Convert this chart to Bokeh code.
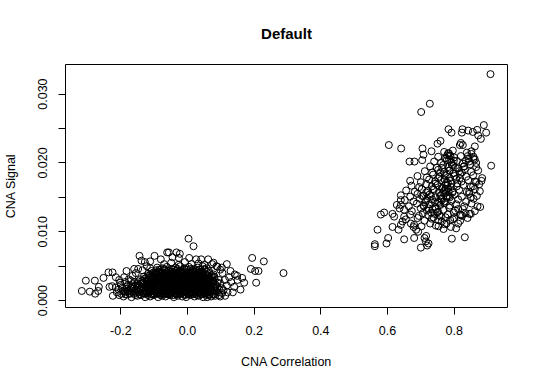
from bokeh.plotting import figure
from bokeh.models import Range1d, FixedTicker, PrintfTickFormatter
from bokeh.embed import file_html
from bokeh.resources import INLINE

FONT = "Liberation Sans"

# ---------------- data ----------------
# left cluster: dense core (rows) + outliers
blob_x = [
    -0.205, -0.192, -0.181, -0.168, -0.150, -0.139, -0.127, -0.112, -0.101, -0.088, -0.077, -0.066,
    -0.052, -0.041, -0.029, -0.016, -0.004, 0.008, 0.021, 0.034, 0.047, 0.058, 0.071, 0.083,
    -0.212, -0.199, -0.186, -0.174, -0.160, -0.146, -0.133, -0.121, -0.108, -0.095, -0.083, -0.070,
    -0.058, -0.046, -0.034, -0.022, -0.010, 0.002, 0.014, 0.027, 0.039, 0.051, 0.064, 0.077, 0.092, 0.104,
    -0.207, -0.193, -0.179, -0.165, -0.152, -0.140, -0.127, -0.115, -0.102, -0.090, -0.077, -0.064,
    -0.052, -0.040, -0.027, -0.015, -0.003, 0.009, 0.021, 0.033, 0.045, 0.057, 0.070, 0.082, 0.096,
    -0.196, -0.183, -0.170, -0.157, -0.144, -0.131, -0.119, -0.106, -0.094, -0.081, -0.069, -0.057,
    -0.044, -0.032, -0.020, -0.008, 0.004, 0.016, 0.028, 0.040, 0.052, 0.065, 0.077, 0.090, 0.103,
    -0.178, -0.164, -0.150, -0.137, -0.124, -0.112, -0.099, -0.087, -0.074, -0.062, -0.050, -0.037,
    -0.025, -0.013, -0.001, 0.011, 0.023, 0.035, 0.047, 0.060, 0.072, 0.085, 0.098,
    -0.160, -0.147, -0.133, -0.120, -0.108, -0.095, -0.083, -0.070, -0.058, -0.046, -0.034, -0.021,
    -0.009, 0.003, 0.015, 0.027, 0.039, 0.052, 0.064, 0.077, 0.090,
    -0.142, -0.128, -0.115, -0.103, -0.090, -0.078, -0.066, -0.053, -0.041, -0.029, -0.017, -0.005,
    0.007, 0.019, 0.031, 0.043, 0.056, 0.068, 0.081, 0.094,
    -0.131, -0.117, -0.104, -0.092, -0.079, -0.067, -0.055, -0.042, -0.030, -0.018, -0.006, 0.006,
    0.018, 0.030, 0.042, 0.055, 0.067, 0.080,
    -0.118, -0.105, -0.092, -0.080, -0.068, -0.056, -0.043, -0.031, -0.019, -0.007, 0.005, 0.017,
    0.029, 0.041, 0.053, 0.066, 0.078,
    -0.108, -0.094, -0.081, -0.069, -0.057, -0.045, -0.033, -0.021, -0.009, 0.003, 0.015, 0.027,
    0.039, 0.051, 0.064,
    -0.091, -0.076, -0.062, -0.049, -0.036, -0.022, -0.009, 0.004, 0.018, 0.031, 0.045, 0.058,
    -0.070, -0.049, -0.027, -0.008, 0.012, 0.033, 0.051,
    -0.190, -0.176, -0.165, -0.155, -0.170, -0.187, -0.200, -0.215, -0.205, -0.148, -0.135, -0.122, -0.112,
    0.105, 0.112, 0.118, 0.125, 0.098, 0.108, 0.120, 0.131, 0.140, 0.150, 0.087, 0.074, 0.095, 0.113,
]
blob_y = [
    0.0008, 0.0006, 0.0009, 0.0005, 0.0007, 0.0008, 0.0005, 0.0006, 0.0008, 0.0005, 0.0007, 0.0006,
    0.0008, 0.0005, 0.0007, 0.0006, 0.0005, 0.0008, 0.0006, 0.0007, 0.0005, 0.0008, 0.0006, 0.0007,
    0.0012, 0.0010, 0.0013, 0.0011, 0.0010, 0.0012, 0.0011, 0.0013, 0.0010, 0.0012, 0.0011, 0.0013,
    0.0010, 0.0012, 0.0011, 0.0010, 0.0013, 0.0011, 0.0012, 0.0010, 0.0013, 0.0011, 0.0012, 0.0010, 0.0012, 0.0011,
    0.0016, 0.0014, 0.0015, 0.0017, 0.0014, 0.0016, 0.0015, 0.0014, 0.0017, 0.0015, 0.0016, 0.0014,
    0.0015, 0.0017, 0.0014, 0.0016, 0.0015, 0.0017, 0.0014, 0.0016, 0.0015, 0.0014, 0.0017, 0.0015, 0.0016,
    0.0019, 0.0020, 0.0018, 0.0021, 0.0019, 0.0018, 0.0020, 0.0021, 0.0019, 0.0018, 0.0020, 0.0019,
    0.0021, 0.0018, 0.0020, 0.0019, 0.0021, 0.0018, 0.0020, 0.0019, 0.0021, 0.0018, 0.0020, 0.0019, 0.0018,
    0.0023, 0.0024, 0.0022, 0.0025, 0.0023, 0.0022, 0.0024, 0.0023, 0.0025, 0.0022, 0.0024, 0.0023,
    0.0022, 0.0025, 0.0023, 0.0024, 0.0022, 0.0025, 0.0023, 0.0024, 0.0022, 0.0023, 0.0025,
    0.0027, 0.0028, 0.0026, 0.0029, 0.0027, 0.0026, 0.0028, 0.0027, 0.0029, 0.0026, 0.0028, 0.0027,
    0.0029, 0.0026, 0.0028, 0.0027, 0.0026, 0.0029, 0.0027, 0.0028, 0.0026,
    0.0031, 0.0032, 0.0030, 0.0033, 0.0031, 0.0030, 0.0032, 0.0031, 0.0033, 0.0030, 0.0032, 0.0031,
    0.0030, 0.0033, 0.0031, 0.0032, 0.0030, 0.0031, 0.0033, 0.0030,
    0.0035, 0.0036, 0.0034, 0.0037, 0.0035, 0.0034, 0.0036, 0.0035, 0.0037, 0.0034, 0.0036, 0.0035,
    0.0034, 0.0037, 0.0035, 0.0036, 0.0034, 0.0035,
    0.0039, 0.0040, 0.0038, 0.0041, 0.0039, 0.0038, 0.0040, 0.0039, 0.0041, 0.0038, 0.0040, 0.0039,
    0.0038, 0.0041, 0.0039, 0.0040, 0.0038,
    0.0043, 0.0044, 0.0042, 0.0045, 0.0043, 0.0042, 0.0044, 0.0043, 0.0045, 0.0042, 0.0044, 0.0043,
    0.0042, 0.0045, 0.0043,
    0.0048, 0.0047, 0.0049, 0.0046, 0.0048, 0.0050, 0.0047, 0.0049, 0.0046, 0.0048, 0.0050, 0.0047,
    0.0053, 0.0055, 0.0052, 0.0056, 0.0053, 0.0054, 0.0052,
    0.0034, 0.0031, 0.0036, 0.0040, 0.0029, 0.0027, 0.0023, 0.0019, 0.0030, 0.0046, 0.0044, 0.0050, 0.0047,
    0.0040, 0.0030, 0.0022, 0.0034, 0.0045, 0.0015, 0.0012, 0.0027, 0.0020, 0.0030, 0.0050, 0.0053, 0.0008, 0.0007,
]

# second, interleaved layer of the dense left core
core2_x = [
    -0.186, -0.172, -0.156, -0.143, -0.130, -0.118, -0.104, -0.092, -0.080, -0.068, -0.055, -0.043,
    -0.031, -0.019, -0.007, 0.005, 0.017, 0.030, 0.042, 0.054, 0.066, 0.080,
    -0.190, -0.176, -0.161, -0.148, -0.136, -0.123, -0.110, -0.098, -0.086, -0.073, -0.061, -0.049,
    -0.037, -0.025, -0.013, -0.001, 0.011, 0.023, 0.036, 0.048, 0.060, 0.073, 0.086,
    -0.182, -0.168, -0.154, -0.141, -0.129, -0.117, -0.104, -0.092, -0.079, -0.067, -0.055, -0.043,
    -0.031, -0.019, -0.007, 0.006, 0.018, 0.031, 0.043, 0.056, 0.068, 0.081,
    -0.165, -0.151, -0.138, -0.125, -0.113, -0.100, -0.088, -0.076, -0.063, -0.051, -0.039, -0.027,
    -0.015, -0.003, 0.009, 0.022, 0.034, 0.046, 0.059, 0.071, 0.084,
    -0.150, -0.136, -0.123, -0.111, -0.098, -0.086, -0.074, -0.061, -0.049, -0.037, -0.025, -0.012,
    0.000, 0.012, 0.025, 0.037, 0.050, 0.062, 0.075,
    -0.136, -0.122, -0.110, -0.097, -0.085, -0.072, -0.060, -0.048, -0.036, -0.024, -0.011, 0.001,
    0.013, 0.025, 0.038, 0.050, 0.063, 0.076,
    -0.124, -0.111, -0.098, -0.086, -0.073, -0.061, -0.049, -0.036, -0.024, -0.012, 0.000, 0.012,
    0.024, 0.037, 0.049, 0.062, 0.074,
    -0.112, -0.099, -0.086, -0.074, -0.062, -0.049, -0.037, -0.025, -0.013, -0.001, 0.011, 0.023,
    0.035, 0.048, 0.060, 0.072,
    -0.101, -0.088, -0.075, -0.063, -0.051, -0.039, -0.027, -0.015, -0.003, 0.009, 0.021, 0.033,
    0.045, 0.058,
    -0.085, -0.070, -0.056, -0.043, -0.030, -0.016, -0.003, 0.010, 0.024, 0.037, 0.051,
]
core2_y = [
    0.0009, 0.0010, 0.0008, 0.0009, 0.0010, 0.0008, 0.0009, 0.0010, 0.0008, 0.0009, 0.0010, 0.0008,
    0.0009, 0.0010, 0.0008, 0.0009, 0.0010, 0.0008, 0.0009, 0.0010, 0.0008, 0.0009,
    0.0013, 0.0014, 0.0012, 0.0013, 0.0014, 0.0012, 0.0013, 0.0014, 0.0012, 0.0013, 0.0014, 0.0012,
    0.0013, 0.0014, 0.0012, 0.0013, 0.0014, 0.0012, 0.0013, 0.0014, 0.0012, 0.0013, 0.0014,
    0.0017, 0.0018, 0.0016, 0.0017, 0.0018, 0.0016, 0.0017, 0.0018, 0.0016, 0.0017, 0.0018, 0.0016,
    0.0017, 0.0018, 0.0016, 0.0017, 0.0018, 0.0016, 0.0017, 0.0018, 0.0016, 0.0017,
    0.0021, 0.0022, 0.0020, 0.0021, 0.0022, 0.0020, 0.0021, 0.0022, 0.0020, 0.0021, 0.0022, 0.0020,
    0.0021, 0.0022, 0.0020, 0.0021, 0.0022, 0.0020, 0.0021, 0.0022, 0.0020,
    0.0025, 0.0026, 0.0024, 0.0025, 0.0026, 0.0024, 0.0025, 0.0026, 0.0024, 0.0025, 0.0026, 0.0024,
    0.0025, 0.0026, 0.0024, 0.0025, 0.0026, 0.0024, 0.0025,
    0.0029, 0.0030, 0.0028, 0.0029, 0.0030, 0.0028, 0.0029, 0.0030, 0.0028, 0.0029, 0.0030, 0.0028,
    0.0029, 0.0030, 0.0028, 0.0029, 0.0030, 0.0028,
    0.0033, 0.0034, 0.0032, 0.0033, 0.0034, 0.0032, 0.0033, 0.0034, 0.0032, 0.0033, 0.0034, 0.0032,
    0.0033, 0.0034, 0.0032, 0.0033, 0.0034,
    0.0037, 0.0038, 0.0036, 0.0037, 0.0038, 0.0036, 0.0037, 0.0038, 0.0036, 0.0037, 0.0038, 0.0036,
    0.0037, 0.0038, 0.0036, 0.0037,
    0.0041, 0.0042, 0.0040, 0.0041, 0.0042, 0.0040, 0.0041, 0.0042, 0.0040, 0.0041, 0.0042, 0.0040,
    0.0041, 0.0042,
    0.0045, 0.0046, 0.0044, 0.0045, 0.0046, 0.0044, 0.0045, 0.0046, 0.0044, 0.0045, 0.0046,
]

# third layer: the solid black centre of the left cluster
core3_x = [
    -0.124, -0.116, -0.107, -0.099, -0.091, -0.083, -0.074, -0.066, -0.058, -0.050, -0.041, -0.033,
    -0.025, -0.017, -0.008, 0.000, 0.008, 0.016, 0.025, 0.033, 0.041, 0.049, 0.058, 0.066,
    -0.120, -0.112, -0.103, -0.095, -0.087, -0.079, -0.070, -0.062, -0.054, -0.046, -0.037, -0.029,
    -0.021, -0.013, -0.004, 0.004, 0.012, 0.020, 0.029, 0.037, 0.045, 0.053, 0.062, 0.070,
    -0.124, -0.116, -0.107, -0.099, -0.091, -0.083, -0.074, -0.066, -0.058, -0.050, -0.041, -0.033,
    -0.025, -0.017, -0.008, 0.000, 0.008, 0.016, 0.025, 0.033, 0.041, 0.049, 0.058, 0.066,
    -0.120, -0.112, -0.103, -0.095, -0.087, -0.079, -0.070, -0.062, -0.054, -0.046, -0.037, -0.029,
    -0.021, -0.013, -0.004, 0.004, 0.012, 0.020, 0.029, 0.037, 0.045, 0.053, 0.062, 0.070,
    -0.107, -0.099, -0.091, -0.083, -0.074, -0.066, -0.058, -0.050, -0.041, -0.033, -0.025, -0.017,
    -0.008, 0.000, 0.008, 0.016, 0.025, 0.033, 0.041, 0.049, 0.058,
    -0.095, -0.087, -0.079, -0.070, -0.062, -0.054, -0.046, -0.037, -0.029, -0.021, -0.013, -0.004,
    0.004, 0.012, 0.020, 0.029, 0.037, 0.045,
]
core3_y = [
    0.0010, 0.0011, 0.0009, 0.0010, 0.0011, 0.0009, 0.0010, 0.0011, 0.0009, 0.0010, 0.0011, 0.0009,
    0.0010, 0.0011, 0.0009, 0.0010, 0.0011, 0.0009, 0.0010, 0.0011, 0.0009, 0.0010, 0.0011, 0.0009,
    0.0016, 0.0017, 0.0015, 0.0016, 0.0017, 0.0015, 0.0016, 0.0017, 0.0015, 0.0016, 0.0017, 0.0015,
    0.0016, 0.0017, 0.0015, 0.0016, 0.0017, 0.0015, 0.0016, 0.0017, 0.0015, 0.0016, 0.0017, 0.0015,
    0.0022, 0.0023, 0.0021, 0.0022, 0.0023, 0.0021, 0.0022, 0.0023, 0.0021, 0.0022, 0.0023, 0.0021,
    0.0022, 0.0023, 0.0021, 0.0022, 0.0023, 0.0021, 0.0022, 0.0023, 0.0021, 0.0022, 0.0023, 0.0021,
    0.0028, 0.0029, 0.0027, 0.0028, 0.0029, 0.0027, 0.0028, 0.0029, 0.0027, 0.0028, 0.0029, 0.0027,
    0.0028, 0.0029, 0.0027, 0.0028, 0.0029, 0.0027, 0.0028, 0.0029, 0.0027, 0.0028, 0.0029, 0.0027,
    0.0034, 0.0035, 0.0033, 0.0034, 0.0035, 0.0033, 0.0034, 0.0035, 0.0033, 0.0034, 0.0035, 0.0033,
    0.0034, 0.0035, 0.0033, 0.0034, 0.0035, 0.0033, 0.0034, 0.0035, 0.0033,
    0.0040, 0.0041, 0.0039, 0.0040, 0.0041, 0.0039, 0.0040, 0.0041, 0.0039, 0.0040, 0.0041, 0.0039,
    0.0040, 0.0041, 0.0039, 0.0040, 0.0041, 0.0039,
]

left_out_x = [
    -0.317, -0.305, -0.293, -0.278, -0.277, -0.268, -0.266, -0.252, -0.237, -0.225, -0.234, -0.226,
    -0.224, -0.215, -0.202, -0.183, -0.144, -0.138, -0.128, -0.099, -0.061, -0.056, -0.033, -0.023,
    -0.026, 0.003, 0.018, 0.026, 0.041, 0.062, 0.118, 0.103, 0.129, 0.142, 0.149, 0.164, 0.170,
    0.194, 0.229, 0.190, 0.203, 0.213, 0.206, 0.159, 0.136, 0.288, 0.098, 0.059,
    -0.160, -0.112, -0.080, 0.005, 0.078, 0.090, -0.045,
]
left_out_y = [
    0.0014, 0.0029, 0.0013, 0.0029, 0.0010, 0.0014, 0.0020, 0.0033, 0.0041, 0.0041, 0.0020, 0.0021,
    0.0007, 0.0034, 0.0026, 0.0043, 0.0065, 0.0058, 0.0056, 0.0065, 0.0070, 0.0070, 0.0070, 0.0068,
    0.0062, 0.0090, 0.0079, 0.0060, 0.0060, 0.0060, 0.0053, 0.0048, 0.0043, 0.0038, 0.0036, 0.0033, 0.0026,
    0.0062, 0.0057, 0.0046, 0.0043, 0.0043, 0.0026, 0.0016, 0.0012, 0.0040, 0.0006, 0.0005,
    0.0046, 0.0057, 0.0060, 0.0062, 0.0055, 0.0049, 0.0063,
]

# right cluster: core + extra dense patches + outliers
core_x = [
    0.680, 0.702, 0.728, 0.745, 0.771, 0.790, 0.812,
    0.655, 0.690, 0.711, 0.733, 0.752, 0.774, 0.796, 0.818, 0.840,
    0.668, 0.694, 0.706, 0.722, 0.741, 0.760, 0.781, 0.799, 0.820, 0.850,
    0.650, 0.673, 0.700, 0.718, 0.735, 0.752, 0.768, 0.785, 0.803, 0.826, 0.862,
    0.640, 0.664, 0.688, 0.709, 0.727, 0.744, 0.759, 0.772, 0.787, 0.806, 0.830, 0.852,
    0.652, 0.678, 0.697, 0.716, 0.734, 0.750, 0.763, 0.777, 0.792, 0.812, 0.836, 0.858,
    0.640, 0.668, 0.690, 0.708, 0.726, 0.745, 0.760, 0.773, 0.786, 0.801, 0.823, 0.845, 0.868,
    0.656, 0.682, 0.703, 0.722, 0.739, 0.755, 0.770, 0.782, 0.796, 0.815, 0.838, 0.862,
    0.672, 0.695, 0.716, 0.733, 0.750, 0.765, 0.779, 0.792, 0.808, 0.828, 0.850, 0.875,
    0.668, 0.700, 0.725, 0.743, 0.760, 0.776, 0.790, 0.806, 0.822, 0.842, 0.866,
    0.690, 0.718, 0.737, 0.756, 0.772, 0.787, 0.801, 0.818, 0.836, 0.857,
    0.712, 0.734, 0.752, 0.770, 0.785, 0.798, 0.815, 0.832, 0.851, 0.872,
    0.728, 0.748, 0.767, 0.782, 0.797, 0.812, 0.830, 0.848, 0.866,
    0.740, 0.761, 0.778, 0.792, 0.808, 0.826, 0.845, 0.862,
    0.752, 0.772, 0.786, 0.800, 0.820, 0.843, 0.858,
    0.770, 0.782, 0.796, 0.838, 0.852,
]
core_y = [
    0.0110, 0.0108, 0.0112, 0.0109, 0.0111, 0.0107, 0.0112,
    0.0118, 0.0120, 0.0116, 0.0119, 0.0117, 0.0121, 0.0118, 0.0116, 0.0120,
    0.0125, 0.0123, 0.0127, 0.0124, 0.0126, 0.0122, 0.0125, 0.0128, 0.0124, 0.0126,
    0.0132, 0.0130, 0.0134, 0.0131, 0.0133, 0.0129, 0.0132, 0.0135, 0.0131, 0.0133, 0.0130,
    0.0139, 0.0137, 0.0141, 0.0138, 0.0140, 0.0136, 0.0139, 0.0142, 0.0138, 0.0140, 0.0137, 0.0141,
    0.0146, 0.0144, 0.0148, 0.0145, 0.0147, 0.0143, 0.0146, 0.0149, 0.0145, 0.0147, 0.0144, 0.0148,
    0.0153, 0.0151, 0.0155, 0.0152, 0.0154, 0.0150, 0.0153, 0.0156, 0.0152, 0.0154, 0.0151, 0.0155, 0.0152,
    0.0160, 0.0158, 0.0162, 0.0159, 0.0161, 0.0157, 0.0160, 0.0163, 0.0159, 0.0161, 0.0158, 0.0162,
    0.0167, 0.0165, 0.0169, 0.0166, 0.0168, 0.0164, 0.0167, 0.0170, 0.0166, 0.0168, 0.0165, 0.0169,
    0.0174, 0.0172, 0.0176, 0.0173, 0.0175, 0.0171, 0.0174, 0.0177, 0.0173, 0.0175, 0.0172,
    0.0181, 0.0179, 0.0183, 0.0180, 0.0182, 0.0178, 0.0181, 0.0184, 0.0180, 0.0182,
    0.0188, 0.0186, 0.0190, 0.0187, 0.0189, 0.0185, 0.0188, 0.0191, 0.0187, 0.0189,
    0.0195, 0.0193, 0.0197, 0.0194, 0.0196, 0.0192, 0.0195, 0.0198, 0.0194,
    0.0202, 0.0200, 0.0204, 0.0201, 0.0203, 0.0199, 0.0202, 0.0205,
    0.0209, 0.0207, 0.0211, 0.0208, 0.0210, 0.0206, 0.0209,
    0.0216, 0.0214, 0.0218, 0.0215, 0.0217,
]
dense_x = [
    0.755, 0.762, 0.770, 0.778, 0.767, 0.775, 0.783, 0.790, 0.781, 0.774, 0.763, 0.758, 0.787, 0.795,
    0.771, 0.779, 0.787, 0.779, 0.784, 0.789, 0.785, 0.776, 0.793, 0.799, 0.805, 0.709, 0.713, 0.719,
    0.704, 0.716, 0.723, 0.731, 0.738, 0.745, 0.749, 0.756, 0.742, 0.730, 0.736, 0.744, 0.752, 0.758,
    0.764, 0.810, 0.817, 0.823, 0.829, 0.835, 0.841, 0.852, 0.858, 0.866, 0.857, 0.863, 0.845, 0.850,
    0.812, 0.818, 0.800, 0.788, 0.777,
]
dense_y = [
    0.0142, 0.0148, 0.0144, 0.0151, 0.0157, 0.0162, 0.0158, 0.0165, 0.0171, 0.0168, 0.0163, 0.0152,
    0.0150, 0.0157, 0.0176, 0.0183, 0.0189, 0.0211, 0.0214, 0.0210, 0.0205, 0.0207, 0.0197, 0.0203,
    0.0193, 0.0137, 0.0143, 0.0148, 0.0152, 0.0157, 0.0134, 0.0128, 0.0121, 0.0133, 0.0128, 0.0124,
    0.0143, 0.0152, 0.0162, 0.0170, 0.0178, 0.0186, 0.0193, 0.0170, 0.0178, 0.0186, 0.0195, 0.0203,
    0.0210, 0.0213, 0.0206, 0.0200, 0.0166, 0.0173, 0.0158, 0.0150, 0.0133, 0.0125, 0.0120, 0.0117,
    0.0112,
]

right_out_x = [
    0.909, 0.727, 0.701, 0.604, 0.641, 0.705, 0.732, 0.708, 0.704, 0.666, 0.681, 0.750, 0.759, 0.783,
    0.792, 0.825, 0.823, 0.842, 0.856, 0.869, 0.889, 0.896, 0.880, 0.872, 0.820, 0.817, 0.826, 0.862,
    0.911, 0.884, 0.882, 0.877, 0.870, 0.878, 0.846, 0.834, 0.824, 0.832, 0.793, 0.806, 0.768, 0.763,
    0.753, 0.723, 0.719, 0.715, 0.700, 0.680, 0.650, 0.633, 0.615, 0.602, 0.597, 0.570, 0.562, 0.562,
    0.580, 0.590, 0.628, 0.640, 0.636, 0.615, 0.620, 0.650, 0.645, 0.640, 0.670, 0.678, 0.686, 0.692,
    0.711, 0.716,
]
right_out_y = [
    0.0329, 0.0286, 0.0274, 0.0226, 0.0221, 0.0221, 0.0217, 0.0212, 0.0204, 0.0202, 0.0202, 0.0228,
    0.0232, 0.0249, 0.0244, 0.0249, 0.0244, 0.0247, 0.0245, 0.0248, 0.0255, 0.0244, 0.0235, 0.0240,
    0.0229, 0.0226, 0.0226, 0.0224, 0.0196, 0.0178, 0.0174, 0.0159, 0.0137, 0.0136, 0.0126, 0.0127,
    0.0123, 0.0092, 0.0090, 0.0105, 0.0104, 0.0115, 0.0108, 0.0083, 0.0080, 0.0086, 0.0077, 0.0091,
    0.0089, 0.0103, 0.0107, 0.0091, 0.0083, 0.0103, 0.0082, 0.0079, 0.0125, 0.0128, 0.0139, 0.0146,
    0.0134, 0.0126, 0.0122, 0.0122, 0.0115, 0.0110, 0.0112, 0.0107, 0.0103, 0.0100, 0.0091, 0.0094,
]

x_ticks = [-0.2, 0.0, 0.2, 0.4, 0.6, 0.8]
y_ticks = [0.0, 0.01, 0.02, 0.03]
y_minor_ticks = [0.005, 0.015, 0.025]

xs = blob_x + core2_x + core3_x + left_out_x + core_x + dense_x + right_out_x
ys = blob_y + core2_y + core3_y + left_out_y + core_y + dense_y + right_out_y

# ---------------- figure ----------------
p = figure(width=540, height=386, output_backend="svg", toolbar_location=None,
           x_range=Range1d(-0.366, 0.960), y_range=Range1d(-0.0010, 0.0343),
           min_border_left=64, min_border_right=33, min_border_top=63, min_border_bottom=79,
           title="Default")
p.title.align = "center"
p.title.text_font = FONT
p.title.text_font_size = "15px"
p.title.text_font_style = "bold"
p.title.text_color = "black"
p.title.standoff = 45

p.grid.visible = False
p.outline_line_color = "black"
p.outline_line_width = 1
p.outline_line_alpha = 1
p.background_fill_color = "white"
p.border_fill_color = "white"

p.scatter(xs, ys, marker="circle", size=7, fill_color=None, line_color="black", line_width=1)

p.xaxis.ticker = FixedTicker(ticks=x_ticks)
p.xaxis.formatter = PrintfTickFormatter(format="%.1f")
p.yaxis.ticker = FixedTicker(ticks=y_ticks, minor_ticks=y_minor_ticks)
p.yaxis.formatter = PrintfTickFormatter(format="%.3f")
p.yaxis.major_label_orientation = "vertical"

for ax in (p.xaxis, p.yaxis):
    ax.axis_line_color = None
    ax.major_tick_in = 0
    ax.major_tick_out = 7
    ax.major_tick_line_color = "black"
    ax.major_label_text_font = FONT
    ax.major_label_text_font_size = "12.5px"
    ax.major_label_text_color = "black"
    ax.axis_label_text_font = FONT
    ax.axis_label_text_font_size = "12.5px"
    ax.axis_label_text_font_style = "normal"
    ax.axis_label_text_color = "black"

p.yaxis.minor_tick_in = 0
p.yaxis.minor_tick_out = 7
p.yaxis.minor_tick_line_color = "black"
p.xaxis.minor_tick_line_color = None

p.xaxis.axis_label = "CNA Correlation"
p.yaxis.axis_label = "CNA Signal"
p.xaxis.major_label_standoff = 11
p.xaxis.axis_label_standoff = 17
p.yaxis.major_label_standoff = 11
p.yaxis.axis_label_standoff = 18

open("out.html", "w").write(file_html(p, INLINE))
